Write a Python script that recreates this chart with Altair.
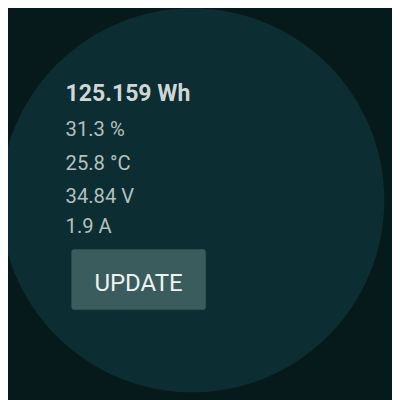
import altair as alt
import pandas as pd

energy = "125.159 Wh"
readings = ["31.3 %", "25.8 °C", "34.84 V", "1.9 A"]
button_label = "UPDATE"

X = alt.X("x:Q", scale=alt.Scale(domain=[8, 408], range=[0, 400], nice=False, zero=False), axis=None)
Y = alt.Y("y:Q", scale=alt.Scale(domain=[8, 408], range=[0, 400], nice=False, zero=False), axis=None)

circle = alt.Chart(pd.DataFrame({"x": [200], "y": [200]})).mark_point(
    shape="circle", filled=True, size=160000, color="#0c2d32", opacity=1
).encode(x=X, y=Y)

title = alt.Chart(pd.DataFrame({"x": [68], "y": [97], "t": [energy]})).mark_text(
    align="left", baseline="alphabetic", font="Roboto", fontSize=24,
    fontWeight="bold", color="#d0d6d6"
).encode(x=X, y=Y, text="t:N")

rd = pd.DataFrame({"x": [68] * 4, "y": [133, 168, 203, 234], "t": readings})
lines = alt.Chart(rd).mark_text(
    align="left", baseline="alphabetic", font="Roboto", fontSize=21,
    color="#b4c0c0"
).encode(x=X, y=Y, text="t:N")

btn = alt.Chart(pd.DataFrame({"x": [74], "x2": [214], "y": [251], "y2": [314]})).mark_rect(
    color="#3a5c5c", cornerRadius=3
).encode(x=X, x2="x2:Q", y=Y, y2="y2:Q")

btxt = alt.Chart(pd.DataFrame({"x": [144], "y": [294], "t": [button_label]})).mark_text(
    align="center", baseline="alphabetic", font="Roboto", fontSize=25,
    color="#eef2f2"
).encode(x=X, y=Y, text="t:N")

chart = alt.layer(circle, title, lines, btn, btxt).properties(
    width=400, height=400, padding=0, autosize="none", background="#061a1c"
).configure_view(strokeWidth=0)

chart.save("out.html", embed_options={"renderer": "svg", "actions": False})
